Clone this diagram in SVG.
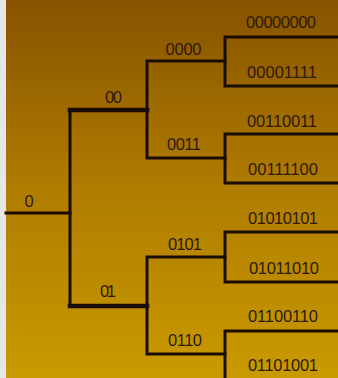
<svg xmlns="http://www.w3.org/2000/svg" width="338" height="378" viewBox="0 0 338 378">
  <defs>
    <linearGradient id="bg" x1="0" y1="0" x2="0" y2="1">
      <stop offset="0" stop-color="#875300"/>
      <stop offset="0.5" stop-color="#b07c00"/>
      <stop offset="1" stop-color="#c99a00"/>
    </linearGradient>
  </defs>
  <style>
    .ln { fill: none; stroke: #1a0c02; stroke-width: 3; stroke-linecap: square; stroke-linejoin: miter; }
    .thick { stroke-width: 4.5; }
    text { font-family: "Liberation Sans", Arial, sans-serif; font-size: 16.5px; fill: #2e1a04; text-anchor: middle; }
  </style>
  <rect x="0" y="0" width="338" height="378" fill="url(#bg)"/>
  <rect x="0" y="0" width="6" height="378" fill="#e6e6e6"/>

  <g id="connectors">
    <path class="ln" d="M6 213 H70"/>
    <path class="ln" d="M70 110 V306"/>
    <path class="ln thick" d="M70 110 H147"/>
    <path class="ln thick" d="M70 306 H147"/>
    <path class="ln" d="M147 61 V158 M147 61 H225 M147 158 H225"/>
    <path class="ln" d="M225 37 V86 M225 37 H340 M225 86 H340"/>
    <path class="ln" d="M225 134 V183 M225 134 H340 M225 183 H340"/>
    <path class="ln" d="M147 257 V354 M147 257 H225 M147 354 H225"/>
    <path class="ln" d="M225 232 V282 M225 232 H340 M225 282 H340"/>
    <path class="ln" d="M225 331 V380 M225 331 H340"/>
  </g>

  <g id="n0"><text x="29" y="207">0</text></g>
  <g id="n00"><text x="113.5" y="103" textLength="17">00</text></g>
  <g id="n01"><text x="108" y="297" textLength="16">01</text></g>
  <g id="n0000"><text x="183.5" y="55" textLength="36">0000</text></g>
  <g id="n0011"><text x="184" y="150" textLength="34">0011</text></g>
  <g id="n0101"><text x="185" y="250" textLength="34">0101</text></g>
  <g id="n0110"><text x="185" y="346" textLength="34">0110</text></g>
  <g id="n00000000"><text x="281" y="28" textLength="70">00000000</text></g>
  <g id="n00001111"><text x="282" y="78" textLength="70">00001111</text></g>
  <g id="n00110011"><text x="282" y="127" textLength="70">00110011</text></g>
  <g id="n00111100"><text x="283" y="175" textLength="70">00111100</text></g>
  <g id="n01010101"><text x="283" y="224" textLength="70">01010101</text></g>
  <g id="n01011010"><text x="284" y="274" textLength="70">01011010</text></g>
  <g id="n01100110"><text x="283" y="322" textLength="70">01100110</text></g>
  <g id="n01101001"><text x="283" y="371" textLength="70">01101001</text></g>
</svg>
